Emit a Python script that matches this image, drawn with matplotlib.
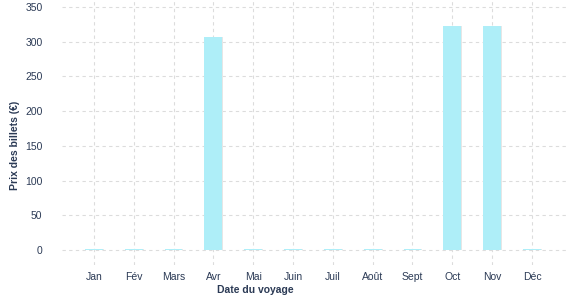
import numpy as np
import matplotlib.pyplot as plt

plt.rcParams['font.family'] = ['Liberation Sans', 'DejaVu Sans']

# Data
mois = ['Jan', 'Fév', 'Mars', 'Avr', 'Mai', 'Juin', 'Juil', 'Août', 'Sept', 'Oct', 'Nov', 'Déc']
prix = [2, 2, 2, 307, 2, 2, 2, 2, 2, 323, 323, 2]
y_ticks = [0, 50, 100, 150, 200, 250, 300, 350]

text_color = '#2b3a55'
bar_color = '#aeeef8'

fig = plt.figure(figsize=(5.77, 3.0), dpi=100)
ax = fig.add_axes([62 / 577, 35 / 300, 505 / 577, 265 / 300])

x = np.arange(len(mois))
# light shadow behind the bars
ax.bar(x + 0.025, prix, width=0.45, color='#e6e6e6', zorder=2)
ax.bar(x, prix, width=0.45, color=bar_color, zorder=3)

ax.set_xlim(-0.8, 11.88)
ax.set_ylim(-21.6, 360)
ax.set_xticks(x)
ax.set_xticklabels(mois)
ax.set_yticks(y_ticks)

ax.grid(True, color='#dcdcdc', linestyle=(0, (3, 3)), linewidth=0.8, zorder=0)
for s in ax.spines.values():
    s.set_visible(False)

ax.tick_params(axis='both', length=0, labelsize=7.5, colors=text_color)
ax.tick_params(axis='x', pad=5)
ax.tick_params(axis='y', pad=14)

ax.set_xlabel('Date du voyage', fontsize=7.5, fontweight='bold', color=text_color)
ax.xaxis.set_label_coords(0.382, -0.075)
ax.set_ylabel('Prix des billets (€)', fontsize=7.5, fontweight='bold', color=text_color)
ax.yaxis.set_label_coords(-0.083, 0.45)

fig.savefig('out.png', dpi=100)
